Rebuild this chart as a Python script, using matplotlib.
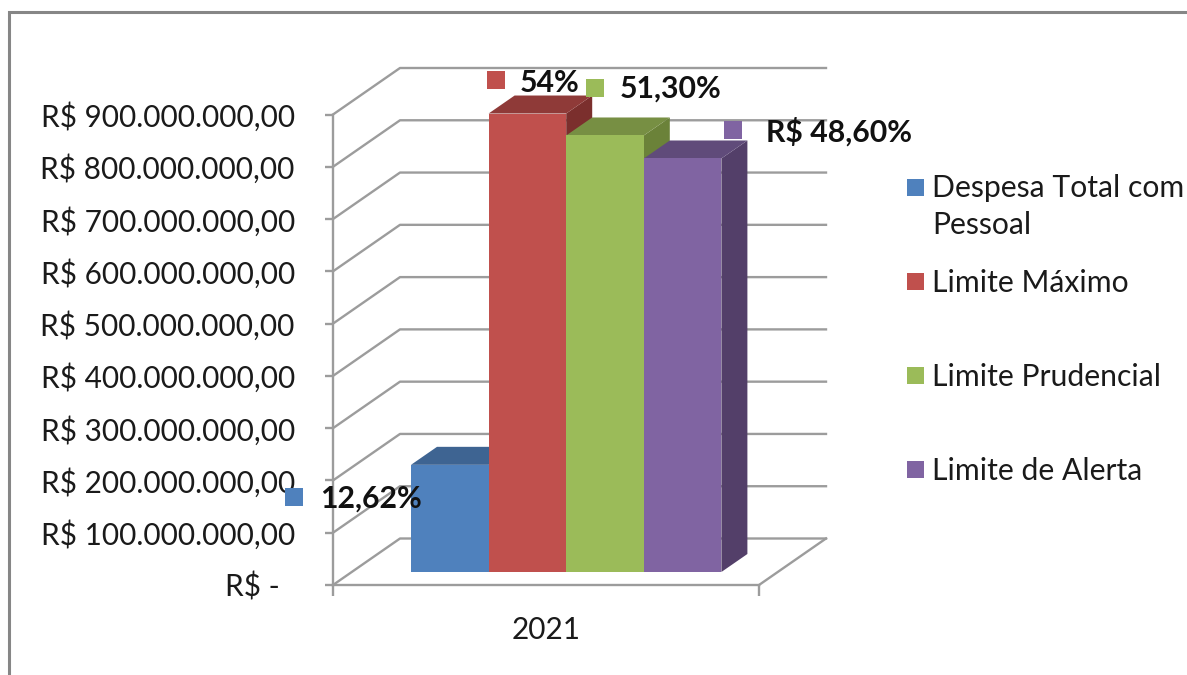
import matplotlib
matplotlib.use('Agg')
import matplotlib.pyplot as plt
from matplotlib.patches import Polygon, Rectangle
from matplotlib.lines import Line2D

W, H = 1187, 675

categories = ['2021']
series = ['Despesa Total com\nPessoal', 'Limite Máximo', 'Limite Prudencial', 'Limite de Alerta']
values = [205e6, 877e6, 835e6, 791e6]
data_labels = ['12,62%', '54%', '51,30%', 'R$ 48,60%']
tick_values = [0, 100e6, 200e6, 300e6, 400e6, 500e6, 600e6, 700e6, 800e6, 900e6]
tick_labels = ['R$ -  ', 'R$ 100.000.000,00', 'R$ 200.000.000,00', 'R$ 300.000.000,00',
               'R$ 400.000.000,00', 'R$ 500.000.000,00', 'R$ 600.000.000,00',
               'R$ 700.000.000,00', 'R$ 800.000.000,00', 'R$ 900.000.000,00']

front = ['#4F81BD', '#C0504D', '#9BBB59', '#8064A2']
top = ['#3E6492', '#8F3A38', '#778F43', '#604B7A']
side = ['#35557C', '#7B2F2D', '#6B8239', '#533F69']
grid = '#9C9C9C'
font = 'Lato'
fs = 21.4
fs_legend = 21.7
fs_bold = 21.8

plt.rcParams['font.family'] = font
fig = plt.figure(figsize=(W / 100, H / 100), dpi=100)

# front plane of the chart, placed by pixels
L, R, T, B = 333, 759, 114.5, 585
ax = fig.add_axes([L / W, 1 - B / H, (R - L) / W, (B - T) / H])
ax.set_xlim(-0.5, 0.5)
ax.set_ylim(0, 900e6)
ax.patch.set_alpha(0)

xpx = 1 / (R - L)
ypx = 900e6 / (B - T)

# depth of the walls and of the bars
wall_dx, wall_dy = 67 * xpx, 46.5 * ypx
bar_dx, bar_dy = 26 * xpx, 18 * ypx
plane_dx, plane_dy = 18.5 * xpx, 13 * ypx
bar_w = 77.6 * xpx
bar_left = -0.5 + 78 * xpx

# walls
for v in tick_values:
    ax.plot([-0.5, -0.5 + wall_dx, 0.5 + wall_dx], [v, v + wall_dy, v + wall_dy],
            color=grid, lw=1.7, clip_on=False, zorder=1)
ax.plot([0.5, 0.5 + wall_dx], [0, wall_dy], color=grid, lw=1.7, clip_on=False, zorder=1)

# bars, left to right so each one covers the side of the one before
for i, v in enumerate(values):
    x0 = bar_left + i * bar_w
    x1 = x0 + bar_w
    y0 = plane_dy
    y1 = plane_dy + v
    ax.add_patch(Polygon([(x1, y0), (x1 + bar_dx, y0 + bar_dy), (x1 + bar_dx, y1 + bar_dy), (x1, y1)],
                         fc=side[i], ec='none', clip_on=False, zorder=2))
    ax.add_patch(Polygon([(x0, y1), (x1, y1), (x1 + bar_dx, y1 + bar_dy), (x0 + bar_dx, y1 + bar_dy)],
                         fc=top[i], ec='none', clip_on=False, zorder=2))
    ax.add_patch(Rectangle((x0, y0), bar_w, v, fc=front[i], ec='none', clip_on=False, zorder=2))

# axes
for s in ['top', 'right']:
    ax.spines[s].set_visible(False)
for s in ['left', 'bottom']:
    ax.spines[s].set_color(grid)
    ax.spines[s].set_linewidth(1.7)
ax.set_yticks(tick_values)
ax.set_yticklabels(tick_labels, fontsize=fs, color='#1a1a1a')
ax.tick_params(axis='y', length=5.5, width=1.7, color=grid, pad=22)
ax.set_xticks([0])
ax.set_xticklabels(categories, fontsize=fs, color='#1a1a1a')
ax.tick_params(axis='x', length=0, pad=22)
ax.set_xticks([-0.5, 0.5], minor=True)
ax.tick_params(axis='x', which='minor', length=8, width=1.7, color=grid)

# overlay in pixel coordinates for labels, legend and frame
ov = fig.add_axes([0, 0, 1, 1], zorder=5)
ov.set_xlim(0, W)
ov.set_ylim(H, 0)
ov.axis('off')

# outer chart frame
ov.add_line(Line2D([9, 9, W], [H, 11.5, 11.5], color='#868686', lw=2.2, solid_joinstyle='miter'))

# data labels
label_squares = [(285, 488), (487, 71), (586, 79), (724, 121)]
label_text = [(320, 499), (520, 83), (620, 89), (766, 132)]
for i, lab in enumerate(data_labels):
    sx, sy = label_squares[i]
    ov.add_patch(Rectangle((sx, sy), 18, 17.5, fc=front[i], ec='none'))
    ov.text(label_text[i][0], label_text[i][1], lab, fontsize=fs_bold, fontweight='bold',
            color='#111111', ha='left', va='center')

# legend
legend_y = [188, 282, 376, 470]
for i, name in enumerate(series):
    ov.add_patch(Rectangle((907, legend_y[i] - 9), 17, 17, fc=front[i], ec='none'))
    ov.text(932, legend_y[i] + 0.5, name.split('\n')[0], fontsize=fs_legend, color='#1a1a1a', ha='left', va='center')
    if '\n' in name:
        ov.text(932, legend_y[i] + 37, name.split('\n')[1], fontsize=fs_legend, color='#1a1a1a', ha='left', va='center')

fig.savefig('out.png', dpi=100, facecolor='white')
